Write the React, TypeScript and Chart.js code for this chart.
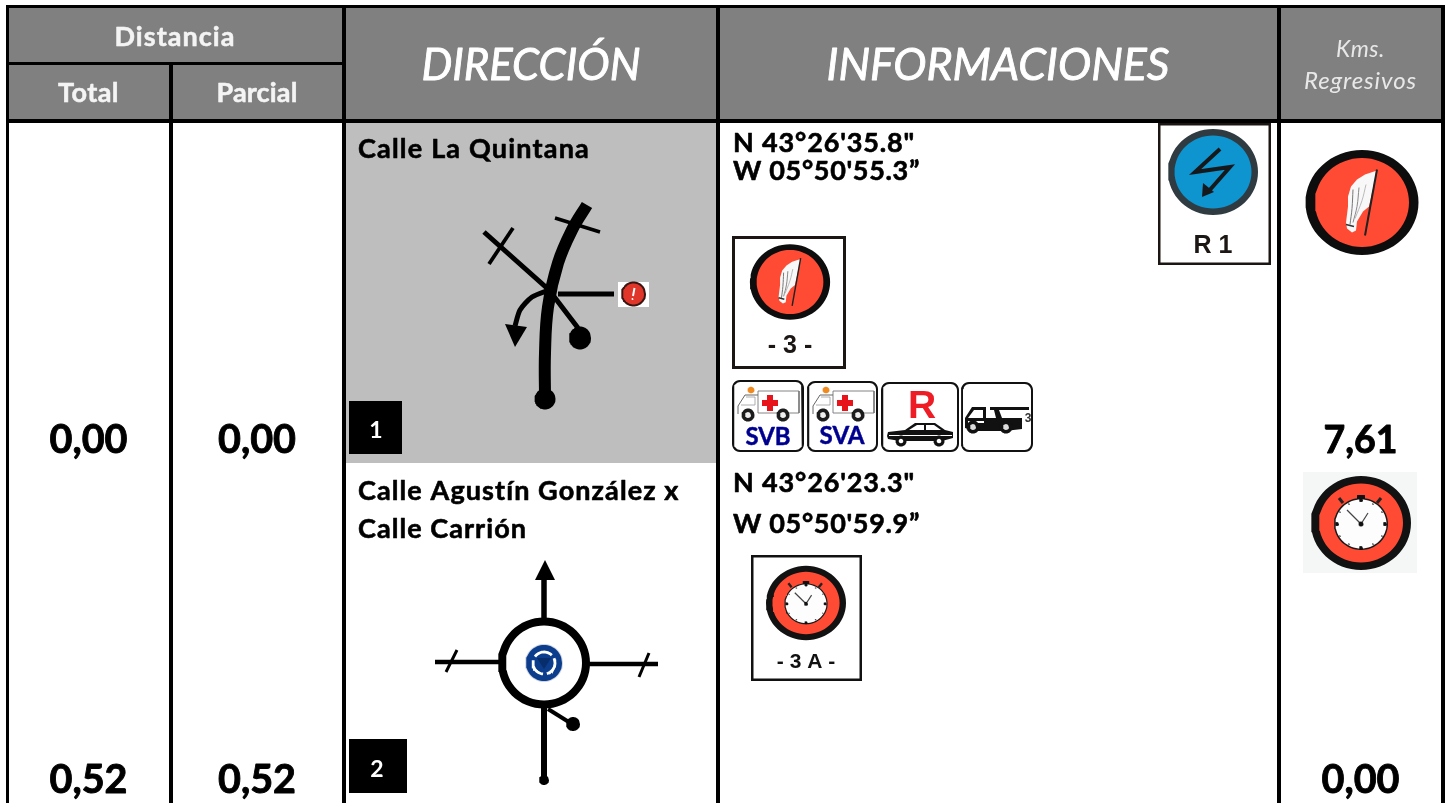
import React, { useEffect, useRef } from "react";
import { Chart, registerables } from "chart.js";
Chart.register(...registerables);

const distanciaHeader = "Distancia";
const subHeaders = ["Total", "Parcial"];
const mainHeaders = ["DIRECCIÓN", "INFORMACIONES"];
const kmsHeader = ["Kms.", "Regresivos"];
const totalValues = ["0,00", "0,52"];
const parcialValues = ["0,00", "0,52"];
const kmsValues = ["7,61", "0,00"];
const tramoNumbers = ["1", "2"];
const streetNames = ["Calle La Quintana", "Calle Agustín González x", "Calle Carrión"];
const coordinates = ["N 43°26'35.8\"", "W 05°50'55.3”", "N 43°26'23.3\"", "W 05°50'59.9”"];
const signCaptions = ["R 1", "- 3 -", "- 3 A -"];
const serviceCaptions = ["SVB", "SVA", "R"];

type P = [number, number];
const datasets: any[] = [];
const toData = (pts: P[]) => pts.map(([x, y]) => ({ x, y }));
const base = { showLine: true, pointRadius: 0, clip: false };
function shape(pts: P[], color: string) {
  datasets.push({ ...base, data: toData(pts), fill: "shape", backgroundColor: color, borderWidth: 0 });
}
function stroke(pts: P[], width: number, color = "#000", tension = 0, cap = "butt") {
  datasets.push({ ...base, data: toData(pts), fill: false, borderColor: color, borderWidth: width, tension, borderCapStyle: cap, borderJoinStyle: "miter" });
}
function rect(x0: number, y0: number, x1: number, y1: number, color: string) {
  shape([[x0, y0], [x1, y0], [x1, y1], [x0, y1]], color);
}
function ellipse(cx: number, cy: number, rx: number, ry: number, color: string) {
  const pts: P[] = [];
  for (let i = 0; i < 64; i++) {
    const a = (i / 64) * Math.PI * 2;
    pts.push([cx + rx * Math.cos(a), cy + ry * Math.sin(a)]);
  }
  shape(pts, color);
}
function arcLine(cx: number, cy: number, r: number, from: number, to: number, w: number, color: string) {
  const pts: P[] = [];
  for (let i = 0; i <= 16; i++) {
    const a = ((from + ((to - from) * i) / 16) * Math.PI) / 180;
    pts.push([cx + r * Math.cos(a), cy + r * Math.sin(a)]);
  }
  stroke(pts, w, color);
}
function roundRect(x0: number, y0: number, x1: number, y1: number, r: number, color: string) {
  const pts: P[] = [];
  const cs: [number, number, number][] = [[x1 - r, y0 + r, -90], [x1 - r, y1 - r, 0], [x0 + r, y1 - r, 90], [x0 + r, y0 + r, 180]];
  for (const [cx, cy, s] of cs) for (let i = 0; i <= 6; i++) {
    const a = ((s + i * 15) * Math.PI) / 180;
    pts.push([cx + r * Math.cos(a), cy + r * Math.sin(a)]);
  }
  shape(pts, color);
}
function signBox(x0: number, y0: number, x1: number, y1: number, w: number, color: string) {
  rect(x0, y0, x1, y1, color);
  rect(x0 + w, y0 + w, x1 - w, y1 - w, "#fff");
}

function flagIcon(cx: number, cy: number, s: number, sy: number) {
  const X = (v: number) => cx + v * s;
  const Y = (v: number) => cy + v * sy;
  ellipse(cx, cy, 56.5 * s, 52.5 * sy, "#0d0d0d");
  ellipse(cx, cy, 47 * s, 44.5 * sy, "#ff4b33");
  const flag: P[] = [[15, -32], [3, -28], [-5, -23], [-11, -16], [-14, -6], [-14, 4], [-16, 20], [-15, 26], [-10, 30], [-6, 28], [-5, 19], [1, 9], [7, 4]];
  shape(flag.map(([a, b]) => [X(a), Y(b)] as P), "#f8f8f8");
  stroke([[X(15), Y(-33)], [X(3), Y(33)]], 2 * s, "#222");
  stroke([[X(-9), Y(-13)], [X(-10), Y(6)], [X(-12), Y(22)]], 1, "#777", 0.4);
  stroke([[X(-3), Y(-15)], [X(-5), Y(4)], [X(-9), Y(20)]], 1, "#888", 0.4);
  stroke([[X(4), Y(-18)], [X(0), Y(-2)], [X(-7), Y(16)]], 0.8, "#aaa", 0.4);
  stroke([[X(-16), Y(22)], [X(-8), Y(24)]], 1.6, "#333");
}
function clockIcon(cx: number, cy: number, s: number, sy: number) {
  const X = (v: number) => cx + v * s;
  const Y = (v: number) => cy + v * sy;
  ellipse(cx, cy, 50 * s, 47 * sy, "#121212");
  ellipse(cx, cy, 42 * s, 39.5 * sy, "#ff4b33");
  ellipse(X(0), Y(1), 27 * s, 26 * sy, "#1a1a1a");
  ellipse(X(0), Y(1), 25.5 * s, 24.5 * sy, "#fdfdfd");
  rect(X(-4), Y(-28), X(4), Y(-24), "#111");
  stroke([[X(-22), Y(-25)], [X(-18), Y(-20)]], 3 * s, "#222");
  stroke([[X(20), Y(-25)], [X(16), Y(-20)]], 3 * s, "#222");
  for (const [a, b] of [[0, -23], [24, 1], [0, 25], [-24, 1]] as P[]) ellipse(X(a), Y(b), 2 * s, 2 * sy, "#111");
  for (const [a, b] of [[-12, -19], [12, -19], [21, -11], [21, 13], [12, 21], [-12, 21], [-21, 13], [-21, -11]] as P[]) ellipse(X(a), Y(b), 1 * s, 1 * sy, "#555");
  stroke([[X(-14), Y(-13)], [X(0), Y(1)]], 1.2, "#444");
  stroke([[X(7), Y(-10)], [X(0), Y(1)]], 1.2, "#444");
  ellipse(X(0), Y(1), 2.5 * s, 2.5 * sy, "#111");
}
function ambulance(ox: number) {
  const X = (v: number) => ox + v;
  const y = (v: number) => 381 + v;
  stroke([[X(25), y(10)], [X(66), y(10)], [X(66), y(32)], [X(25), y(32)], [X(25), y(10)]], 0.9, "#777");
  stroke([[X(5), y(33)], [X(5), y(25)], [X(12), y(14)], [X(25), y(14)]], 1, "#666");
  stroke([[X(8), y(24)], [X(22), y(24)], [X(22), y(16)], [X(13), y(16)]], 0.8, "#999");
  ellipse(X(18), y(9), 3.5, 3.2, "#f08a1e");
  rect(X(29), y(19), X(45), y(25), "#e8141c");
  rect(X(34), y(14), X(40), y(30), "#e8141c");
  for (const w of [15, 50]) {
    ellipse(X(w), y(34), 6.5, 6.5, "#1c1c1c");
    ellipse(X(w), y(34), 3, 3, "#eee");
  }
}

// ---------- table ----------
rect(0, 0, 1451, 803, "#ffffff");
rect(8, 8, 1441, 119, "#808080");
rect(346, 123, 716, 463, "#bebebe");
const K = "#000";
rect(6, 5, 1445, 8, K);
rect(6, 5, 9, 803, K);
rect(8, 62, 342, 65, K);
rect(6, 119, 1445, 123, K);
rect(169, 62, 173, 803, K);
rect(342, 5, 346, 803, K);
rect(716, 5, 720, 803, K);
rect(1277, 5, 1281, 803, K);
rect(1441, 5, 1445, 803, K);

// ---------- route diagram 1 ----------
stroke([[545, 400], [545, 353], [548, 307], [558, 263], [572, 230], [587, 205]], 12, K, 0.4);
ellipse(545, 399, 10.5, 10.5, K);
stroke([[484, 232], [549, 290], [578, 328]], 5, K);
stroke([[513, 228], [489, 264]], 3.8, K);
stroke([[555, 218], [600, 232]], 3.5, K);
stroke([[558, 294], [614, 294]], 5, K);
ellipse(580, 338, 11, 11.5, K);
stroke([[549, 290], [532, 297], [520, 310], [515, 326]], 5, K, 0.25);
shape([[505, 324], [527, 327], [515, 347]], K);
rect(618, 282, 649, 307, "#fff");
ellipse(633.5, 294, 12.5, 12.5, "#3a1512");
ellipse(633.5, 294, 10.5, 10.5, "#e0362a");
stroke([[634.5, 288], [633, 296]], 2, "#fff");
ellipse(632.5, 299, 1, 1, "#fff");
rect(349, 401, 402, 454, K);

// ---------- route diagram 2 ----------
stroke([[544, 620], [544, 578]], 5.5, K);
shape([[535, 580], [555, 580], [545, 560]], K);
stroke([[435, 662], [499, 662]], 4.5, K);
stroke([[457, 650], [446, 672]], 3, K);
stroke([[589, 664], [658, 664]], 4.5, K);
stroke([[649, 653], [639, 677]], 3, K);
stroke([[544, 705], [544, 778]], 6, K);
ellipse(544, 780, 5, 5, K);
stroke([[548, 709], [572, 724]], 4, K);
ellipse(573, 724, 7, 7, K);
ellipse(544, 663, 46, 45.5, K);
ellipse(544, 663, 38, 37.5, "#fff");
ellipse(544, 663, 19, 19, "#cfd6e0");
ellipse(544, 663, 18, 18, "#0c3c8c");
arcLine(544, 663, 11, 215, 315, 2.8, "#fff");
arcLine(544, 663, 11, 335, 435, 2.8, "#fff");
arcLine(544, 663, 11, 95, 195, 2.8, "#fff");
shape([[537, 658], [551, 658], [544, 669]], "#082d6b");
rect(349, 739, 407, 793, K);

// ---------- sign R1 ----------
signBox(1158, 123, 1271, 265, 2.5, "#1b1513");
ellipse(1213, 172, 45, 43, "#2f3b41");
ellipse(1213, 172, 38.5, 36.5, "#0e94cf");
stroke([[1220, 149], [1195, 172], [1230, 167], [1208, 192]], 4, "#15191c");
shape([[1203, 183], [1214, 192], [1202, 197]], "#15191c");

// ---------- sign 3 ----------
signBox(732, 236, 846, 369, 3, "#1b1513");
flagIcon(790, 282, 0.71, 0.72);

// ---------- service icons ----------
roundRect(732, 380, 804, 452, 8, "#111");
roundRect(734, 382, 802, 450, 6.5, "#fff");
roundRect(807, 381, 878, 452, 8, "#111");
roundRect(809, 383, 876, 450, 6.5, "#fff");
roundRect(881, 382, 959, 452, 8, "#111");
roundRect(883, 384, 957, 450, 6.5, "#fff");
roundRect(961, 382, 1033, 452, 8, "#111");
roundRect(963, 384, 1031, 450, 6.5, "#fff");
ambulance(733);
ambulance(808);
// car
shape([[887, 436], [888, 432], [905, 430], [915, 423], [935, 423], [945, 430], [953, 432], [953, 438], [942, 441], [900, 441], [888, 439]], "#111");
shape([[909, 430], [917, 425], [924, 425], [924, 430]], "#fff");
shape([[926, 425], [934, 425], [941, 430], [926, 430]], "#fff");
stroke([[889, 435.5], [952, 435.5]], 1, "#fff");
ellipse(901, 441, 5.5, 5.5, "#111");
ellipse(901, 441, 2.3, 2.3, "#fff");
ellipse(939, 441, 5.5, 5.5, "#111");
ellipse(939, 441, 2.3, 2.3, "#fff");
// truck
shape([[965, 428], [965, 418], [972, 407], [986, 407], [986, 418], [1022, 418], [1022, 429], [1005, 431], [975, 431]], "#111");
shape([[968, 418], [974, 410], [983, 410], [983, 418]], "#fff");
rect(968, 421, 984, 423, "#fff");
rect(990, 407, 1029, 410, "#111");
shape([[994, 410], [999, 410], [1002, 418], [996, 418]], "#111");
for (const w of [973, 1006]) {
  ellipse(w, 427, 6.5, 6.5, "#111");
  ellipse(w, 427, 3, 3, "#ddd");
}

// ---------- sign 3A ----------
signBox(751, 555, 862, 681, 2.5, "#111");
clockIcon(806, 603, 0.8, 0.79);

// ---------- right column icons ----------
flagIcon(1362, 202.5, 1, 1);
rect(1303, 472, 1417, 573, "#f5f6f6");
clockIcon(1361, 523, 1, 1);

datasets.reverse();

// ---------- texts ----------
type T = { t: string; x: number; y: number; f: string; c?: string; a?: CanvasTextAlign; w?: number; h?: number };
const LB = "bold 27px Lato";
const LV = "bold 40px Lato";
const AR = '"Liberation Sans"';
const texts: T[] = [
  { t: distanciaHeader, x: 175, y: 46, f: LB, c: "#f4f4f4", a: "center", w: 121, h: 0.5 },
  { t: subHeaders[0], x: 88.5, y: 102, f: LB, c: "#f4f4f4", a: "center", w: 61, h: 0.5 },
  { t: subHeaders[1], x: 257, y: 102, f: LB, c: "#f4f4f4", a: "center", w: 81, h: 0.5 },
  { t: mainHeaders[0], x: 531, y: 80, f: "italic 44px Lato", c: "#fff", a: "center", w: 218, h: 0.9 },
  { t: mainHeaders[1], x: 998, y: 80, f: "italic 45px Lato", c: "#fff", a: "center", w: 342, h: 0.9 },
  { t: kmsHeader[0], x: 1360.5, y: 57, f: "italic 23px Lato", c: "#e8e8e8", a: "center", w: 49 },
  { t: kmsHeader[1], x: 1360.5, y: 89, f: "italic 24px Lato", c: "#e8e8e8", a: "center", w: 113 },
  { t: totalValues[0], x: 88.5, y: 453, f: LV, a: "center", w: 77, h: 0.9 },
  { t: parcialValues[0], x: 257, y: 453, f: LV, a: "center", w: 77, h: 0.9 },
  { t: kmsValues[0], x: 1360.5, y: 453, f: "bold 38px Lato", a: "center", w: 73, h: 0.9 },
  { t: totalValues[1], x: 88.5, y: 793, f: LV, a: "center", w: 77, h: 0.9 },
  { t: parcialValues[1], x: 257, y: 793, f: LV, a: "center", w: 77, h: 0.9 },
  { t: kmsValues[1], x: 1360.5, y: 793, f: LV, a: "center", w: 77, h: 0.9 },
  { t: tramoNumbers[0], x: 376, y: 438, f: "bold 23px Lato", c: "#fff", a: "center" },
  { t: tramoNumbers[1], x: 377, y: 777, f: "bold 23px Lato", c: "#fff", a: "center" },
  { t: streetNames[0], x: 358, y: 158, f: LB, w: 232, h: 0.6 },
  { t: streetNames[1], x: 358, y: 500, f: LB, w: 322, h: 0.6 },
  { t: streetNames[2], x: 358, y: 538, f: LB, w: 169, h: 0.6 },
  { t: coordinates[0], x: 733, y: 152, f: LB, w: 182, h: 0.6 },
  { t: coordinates[1], x: 733, y: 180, f: LB, w: 187, h: 0.6 },
  { t: coordinates[2], x: 733, y: 492, f: LB, w: 182, h: 0.6 },
  { t: coordinates[3], x: 733, y: 533, f: LB, w: 187, h: 0.6 },
  { t: signCaptions[0], x: 1213, y: 253, f: `bold 25px ${AR}`, c: "#1c1714", a: "center" },
  { t: signCaptions[1], x: 790, y: 353, f: `bold 25px ${AR}`, c: "#1c1714", a: "center" },
  { t: signCaptions[2], x: 806, y: 668, f: `bold 21px ${AR}`, c: "#111", a: "center" },
  { t: serviceCaptions[0], x: 768, y: 445, f: "bold 25px Lato", c: "#00008f", a: "center", w: 44, h: 0.5 },
  { t: serviceCaptions[1], x: 842, y: 444, f: "bold 25px Lato", c: "#00008f", a: "center", w: 44, h: 0.5 },
  { t: serviceCaptions[2], x: 922, y: 418, f: `bold 39px ${AR}`, c: "#ee1c25", a: "center" },
  { t: "3", x: 1028, y: 422, f: `bold 12px ${AR}`, c: "#333", a: "center" },
];

const textPlugin = {
  id: "roadbookText",
  afterDatasetsDraw(chart: any) {
    const { ctx, scales } = chart;
    ctx.save();
    ctx.textBaseline = "alphabetic";
    ctx.lineJoin = "round";
    for (const it of texts) {
      ctx.font = it.f;
      ctx.fillStyle = it.c || "#000";
      ctx.strokeStyle = it.c || "#000";
      ctx.textAlign = it.a || "left";
      ctx.letterSpacing = "0px";
      if (it.w) {
        const natural = ctx.measureText(it.t).width;
        if (natural < it.w) ctx.letterSpacing = `${(it.w - natural) / it.t.length}px`;
      }
      const px = scales.x.getPixelForValue(it.x);
      const py = scales.y.getPixelForValue(it.y);
      if (it.w) ctx.fillText(it.t, px, py, it.w + 1);
      else ctx.fillText(it.t, px, py);
      if (it.h) {
        ctx.lineWidth = it.h;
        if (it.w) ctx.strokeText(it.t, px, py, it.w + 1);
        else ctx.strokeText(it.t, px, py);
      }
    }
    ctx.restore();
  },
};

export default function App() {
  const ref = useRef<HTMLCanvasElement>(null);
  useEffect(() => {
    const chart = new Chart(ref.current as HTMLCanvasElement, {
      type: "scatter",
      data: { datasets },
      options: {
        animation: false,
        responsive: false,
        events: [],
        layout: { padding: 0 },
        plugins: { legend: { display: false }, tooltip: { enabled: false }, title: { display: false } },
        scales: {
          x: { type: "linear", min: 0, max: 1451, display: false },
          y: { type: "linear", min: 0, max: 803, reverse: true, display: false },
        },
      },
      plugins: [textPlugin],
    } as any);
    return () => chart.destroy();
  }, []);
  return (
    <canvas
      ref={ref}
      width={1451}
      height={803}
      style={{ position: "absolute", left: 0, top: 0, width: 1451, height: 803, display: "block" }}
    />
  );
}
